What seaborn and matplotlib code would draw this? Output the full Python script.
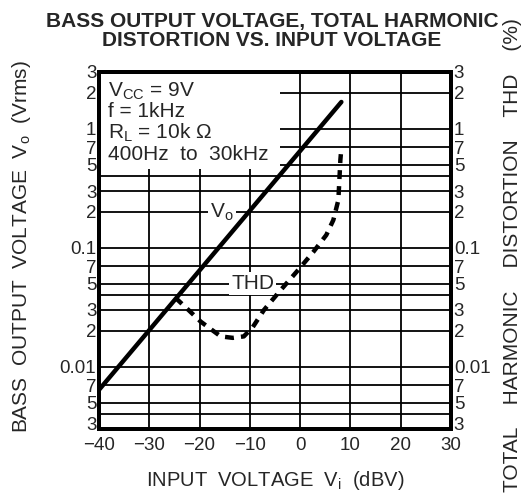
import matplotlib
matplotlib.use("Agg")
import matplotlib.pyplot as plt
import matplotlib.transforms as mtransforms
import seaborn as sns
import numpy as np
from matplotlib.ticker import FixedLocator, NullLocator, FixedFormatter
from matplotlib.patches import Rectangle

# ---- data ----
vo_x = [-40, 8.2]
vo_y = [0.0064, 1.68]

thd_x = [-24.8, -22.2, -19.8, -15.8, -13.4, -11.2, -9.4, -7.2, -4.2, -0.4,
         2.6, 5.2, 6.6, 7.6, 7.8, 8.0, 8.2]
thd_y = [0.038, 0.030, 0.024, 0.018, 0.0175, 0.018, 0.0216, 0.030, 0.0425, 0.065,
         0.092, 0.128, 0.171, 0.252, 0.37, 0.547, 0.69]

x_ticks = [-40, -30, -20, -10, 0, 10, 20, 30]
x_tick_labels = ["\u221240", "\u221230", "\u221220", "\u221210", "0", "10", "20", "30"]
y_ticks = [3, 2, 1, 0.7, 0.5, 0.3, 0.2, 0.1, 0.07, 0.05, 0.03, 0.02, 0.01, 0.007, 0.005, 0.003]
y_tick_labels = ["3", "2", "1", "7", "5", "3", "2", "0.1", "7", "5", "3", "2", "0.01", "7", "5", "3"]
grid_y = [2, 1, 0.7, 0.5, 0.4, 0.3, 0.2, 0.1, 0.07, 0.05, 0.04, 0.03, 0.02, 0.01,
          0.007, 0.005, 0.004]

sns.set_theme(style="white")
plt.rcParams["font.family"] = ["Liberation Sans", "DejaVu Sans"]
plt.rcParams["mathtext.fontset"] = "custom"
plt.rcParams["mathtext.rm"] = "Liberation Sans"

fig = plt.figure(figsize=(5.26, 4.99), dpi=100)
ax = fig.add_axes([99 / 526, 1 - 429 / 499, 352 / 526, 357 / 499])

ax.set_yscale("log")
ax.set_xlim(-40, 30)
ax.set_ylim(0.003, 3)

# grid lines
for gy in grid_y:
    ax.axhline(gy, color="black", lw=1.3, zorder=0.5)
for gx in x_ticks[1:-1]:
    ax.axvline(gx, color="black", lw=1.3, zorder=0.5)

# white box for conditions
ax.add_patch(Rectangle((-40, 0.46), 36, 3 - 0.46, facecolor="white",
                       edgecolor="none", zorder=1))

sns.lineplot(x=vo_x, y=vo_y, ax=ax, color="black", lw=3.2, zorder=3)
sns.lineplot(x=thd_x, y=thd_y, ax=ax, color="black", lw=3.2, zorder=3,
             linestyle=(0, (2.0, 1.6)))

ax.xaxis.set_major_locator(FixedLocator(x_ticks))
ax.xaxis.set_major_formatter(FixedFormatter(x_tick_labels))
ax.yaxis.set_major_locator(FixedLocator(y_ticks))
ax.yaxis.set_major_formatter(FixedFormatter(y_tick_labels))
ax.yaxis.set_minor_locator(NullLocator())
ax.tick_params(axis="both", which="both", length=0, labelsize=13.5)
ax.tick_params(axis="x", pad=6)
ax.tick_params(axis="y", pad=2)

ax2 = ax.twinx()
ax2.set_yscale("log")
ax2.set_ylim(0.003, 3)
ax2.yaxis.set_major_locator(FixedLocator(y_ticks))
ax2.yaxis.set_major_formatter(FixedFormatter(y_tick_labels))
ax2.yaxis.set_minor_locator(NullLocator())
ax2.tick_params(axis="y", which="both", length=0, labelsize=13.5, pad=2)
ax2.grid(False)

# nudge the lowest "3" labels up a little so they clear the x tick labels
off = mtransforms.ScaledTranslation(0, 4 / 72, fig.dpi_scale_trans)
t_left = ax.yaxis.get_major_ticks(len(y_ticks))[-1].label1
t_left.set_transform(t_left.get_transform() + off)
t_right = ax2.yaxis.get_major_ticks(len(y_ticks))[-1].label2
t_right.set_transform(t_right.get_transform() + off)

for a in (ax, ax2):
    for s in a.spines.values():
        s.set_linewidth(2.8)
        s.set_color("black")
        s.set_visible(True)

# annotations
ax.text(-38.2, 2.55,
        "V$_{\\mathregular{CC}}$ = 9V\nf = 1kHz\nR$_{\\mathregular{L}}$ = 10k \u03a9\n400Hz  to  30kHz",
        fontsize=15, va="top", ha="left", linespacing=1.02, zorder=4)
ax.text(-15.6, 0.2, "V$_{\\mathregular{o}}$", fontsize=15, ha="center", va="center",
        zorder=2, bbox=dict(facecolor="white", edgecolor="none", pad=1.5))
ax.text(-9.4, 0.05, "THD", fontsize=15, ha="center", va="center", zorder=2,
        bbox=dict(facecolor="white", edgecolor="none", pad=1.5))

fig.text(272 / 526, 1 - 31 / 499,
         "BASS OUTPUT VOLTAGE, TOTAL HARMONIC\nDISTORTION VS. INPUT VOLTAGE",
         ha="center", va="center", fontsize=15, fontweight="bold", linespacing=1.02)
fig.text(275 / 526, 1 - 481 / 499, "INPUT  VOLTAGE  V$_{\\mathregular{i}}$  (dBV)",
         ha="center", va="center", fontsize=14.5)
fig.text(22 / 526, 1 - 247 / 499, "BASS  OUTPUT  VOLTAGE  V$_{\\mathregular{o}}$  (Vrms)",
         ha="center", va="center", rotation=90, fontsize=15)
fig.text(512 / 526, 1 - 255 / 499, "TOTAL    HARMONIC    DISTORTION    THD    (%)",
         ha="center", va="center", rotation=90, fontsize=15)

fig.savefig("out.png", dpi=100, facecolor="white")
